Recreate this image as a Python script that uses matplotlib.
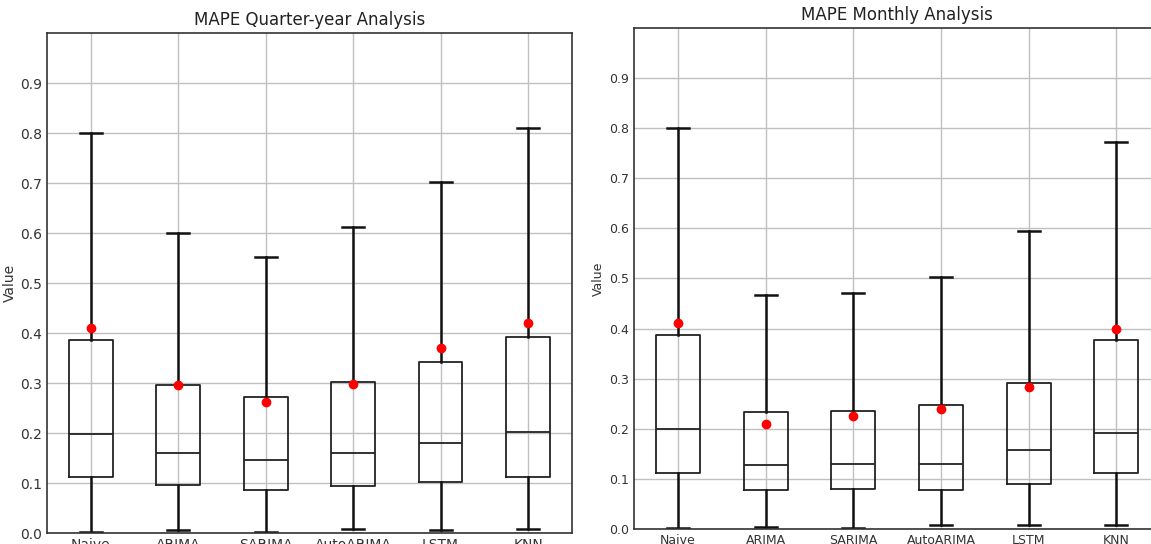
import matplotlib
matplotlib.use("Agg")
import matplotlib.pyplot as plt

models = ["Naive", "ARIMA", "SARIMA", "AutoARIMA", "LSTM", "KNN"]

# quarter-year MAPE summary
q_min = [0.003, 0.007, 0.003, 0.008, 0.007, 0.008]
q_q1 = [0.112, 0.096, 0.086, 0.094, 0.103, 0.113]
q_med = [0.198, 0.160, 0.147, 0.160, 0.181, 0.202]
q_q3 = [0.387, 0.296, 0.273, 0.302, 0.343, 0.392]
q_max = [0.800, 0.600, 0.552, 0.612, 0.703, 0.810]
q_mean = [0.411, 0.297, 0.262, 0.298, 0.370, 0.420]

# monthly MAPE summary
m_min = [0.002, 0.004, 0.002, 0.007, 0.008, 0.008]
m_q1 = [0.112, 0.078, 0.080, 0.078, 0.089, 0.112]
m_med = [0.199, 0.128, 0.130, 0.130, 0.157, 0.192]
m_q3 = [0.387, 0.234, 0.236, 0.248, 0.292, 0.377]
m_max = [0.800, 0.468, 0.472, 0.502, 0.594, 0.772]
m_mean = [0.412, 0.210, 0.225, 0.239, 0.283, 0.399]

yticks = [0.0, 0.1, 0.2, 0.3, 0.4, 0.5, 0.6, 0.7, 0.8, 0.9]


def make_stats(mins, q1s, meds, q3s, maxs, means):
    stats = []
    for i in range(len(models)):
        stats.append({"label": models[i], "whislo": mins[i], "q1": q1s[i], "med": meds[i],
                      "q3": q3s[i], "whishi": maxs[i], "mean": means[i], "fliers": []})
    return stats


def draw_panel(ax, stats, title, tick_size):
    ax.bxp(stats, showmeans=True, widths=0.5, showfliers=False,
           boxprops=dict(color="#222222", linewidth=1.3),
           medianprops=dict(color="#222222", linewidth=1.3),
           whiskerprops=dict(color="#111111", linewidth=1.8),
           capprops=dict(color="#111111", linewidth=1.8),
           meanprops=dict(marker="o", markerfacecolor="red", markeredgecolor="red", markersize=6))
    ax.set_ylim(0, 1.0)
    ax.set_yticks(yticks)
    ax.grid(True, color="#c0c0c0", linewidth=1.0)
    ax.set_axisbelow(True)
    ax.tick_params(length=0, labelsize=tick_size, colors="#333333")
    ax.set_ylabel("Value", fontsize=tick_size, color="#333333")
    ax.set_title(title, fontsize=12, color="#222222")
    for s in ax.spines.values():
        s.set_color("#333333")
        s.set_linewidth(1.2)


fig = plt.figure(figsize=(11.51, 5.44), dpi=100)
ax1 = fig.add_axes([0.0408, 0.0202, 0.456, 0.919])
ax2 = fig.add_axes([0.551, 0.0276, 0.457, 0.921])

draw_panel(ax1, make_stats(q_min, q_q1, q_med, q_q3, q_max, q_mean), "MAPE Quarter-year Analysis", 10)
draw_panel(ax2, make_stats(m_min, m_q1, m_med, m_q3, m_max, m_mean), "MAPE Monthly Analysis", 9)
ax1.yaxis.labelpad = 2
ax2.yaxis.labelpad = 3

fig.savefig("out.png", dpi=100)
